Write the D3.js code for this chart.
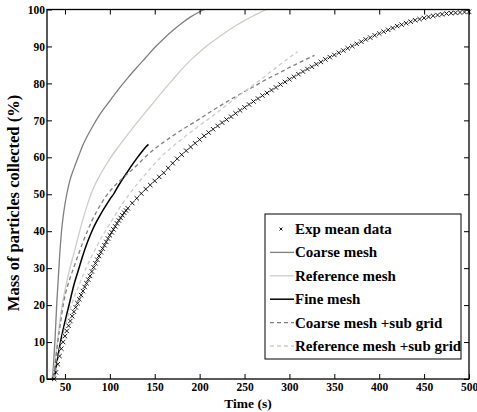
<!DOCTYPE html>
<html>
<head>
<meta charset="utf-8">
<script src="https://cdn.jsdelivr.net/npm/d3@7"></script>
<style>
  body { margin: 0; background: #fff; }
  text { font-family: "Liberation Serif", "Times New Roman", serif; font-weight: bold; }
</style>
</head>
<body>
<div id="myVis"></div>
<script>
var width = 477;
var height = 412;
var margin = {left: 47, top: 9.5, right: 8, bottom: 33};

// experimental mean data (s, %)
var expTime = [38, 40, 42, 44, 46, 48, 50, 52, 54, 56, 58, 60, 62, 64, 66, 68, 70, 72, 74, 76, 78, 80, 82, 84, 86, 88, 90,
  92, 94, 96, 98, 100, 102, 104, 106, 108, 110, 112, 114, 116, 118, 120,
  125, 130, 135, 140, 145, 150, 155, 160, 165, 170, 175, 180, 185, 190, 195, 200, 205, 210, 215, 220, 225, 230, 235,
  240, 245, 250, 255, 260, 265, 270, 275, 280, 285, 290, 295, 300, 305, 310, 315, 320, 325, 330, 335, 340, 345, 350,
  355, 360, 365, 370, 375, 380, 385, 390, 395, 400, 405, 410, 415, 420, 425, 430, 435, 440, 445, 450, 455, 460, 465,
  470, 475, 480, 485, 490, 495, 500];
var expMass = [0, 1.8, 4, 6.2, 8.2, 10, 11.6, 13, 14.4, 15.7, 17, 18.2, 19.4, 20.5, 21.6, 22.7, 23.8, 24.9, 25.9, 26.9, 27.9, 29.1, 30.2, 31.3, 32.3, 33.3, 34.3,
  35.3, 36.2, 37.1, 38, 38.9, 39.7, 40.5, 41.3, 42.1, 42.9, 43.6, 44.3, 45, 45.6, 46.2,
  47.6, 48.9, 50.2, 51.4, 52.5, 53.6, 54.7, 55.8, 57.1, 58.4, 59.6, 60.7, 61.8, 62.8, 63.8, 64.8, 65.8, 66.7, 67.6, 68.5, 69.4, 70.2, 71,
  71.9, 72.7, 73.5, 74.3, 75.1, 75.9, 76.7, 77.4, 78.2, 78.9, 79.7, 80.4, 81.1, 81.8, 82.5, 83.2, 83.9, 84.5, 85.2, 85.8, 86.5, 87.1, 87.7,
  88.3, 88.9, 89.5, 90.1, 90.7, 91.3, 91.9, 92.4, 93, 93.5, 94, 94.5, 95, 95.5, 95.9, 96.3, 96.7, 97.1, 97.4, 97.7, 98, 98.3, 98.5,
  98.7, 98.9, 99, 99.1, 99.2, 99.3, 99.4];

var coarseTime = [31, 35, 37, 38, 39, 40, 41, 42, 43, 44, 45, 46, 48, 50, 52, 55, 60, 65, 70, 80, 90, 100, 110, 120, 130, 140, 150, 160, 170, 180, 190, 200, 205];
var coarseMass = [0, 0, 3, 7, 11, 16, 21, 25, 29, 33, 36.5, 39.5, 44, 47.3, 50, 53.3, 57, 60.2, 63.3, 68, 72, 75.3, 78.5, 81.5, 84.3, 87, 89.7, 92.1, 94.3, 96.3, 98, 99.4, 100];

var refTime = [31, 36, 38, 40, 42, 44, 46, 48, 50, 55, 60, 65, 70, 75, 80, 90, 100, 110, 120, 130, 140, 150, 160, 170, 180, 190, 200, 210, 220, 230, 240, 250, 260, 270, 275];
var refMass = [0, 0, 3, 7, 11, 15, 18.5, 21.5, 24, 29.5, 34, 38.7, 43.2, 47.2, 50.7, 55.6, 59.6, 63, 66.2, 69.3, 72.3, 75.2, 78.2, 81, 83.8, 86.3, 88.5, 90.5, 92.3, 94, 95.6, 97, 98.3, 99.5, 100];

var fineTime = [31, 38, 40, 45, 50, 55, 60, 65, 70, 75, 80, 85, 90, 95, 100, 105, 110, 115, 120, 125, 130, 135, 140, 143];
var fineMass = [0, 0, 3, 10, 15.5, 20.5, 25.5, 29.5, 33.5, 37, 40, 42.5, 44.7, 46.7, 48.6, 50.4, 52.5, 54.4, 56.2, 58, 59.7, 61.3, 62.8, 63.5];

var coarseSubTime = [31, 36, 38, 40, 42, 45, 48, 51, 55, 60, 65, 70, 75, 80, 85, 90, 95, 100, 105, 110, 115, 120, 130, 140, 150, 160, 170, 180, 190,
  200, 210, 220, 230, 240, 250, 260, 270, 280, 290, 300, 310, 320, 328];
var coarseSubMass = [0, 0, 2, 6, 10, 15, 20, 23.5, 26.8, 30.3, 33.7, 37, 40, 42.8, 45.2, 47.3, 49.2, 50.8, 52.2, 53.4, 54.5, 55.6, 57.8, 60.2, 62.3, 64.1, 65.8, 67.4, 68.9,
  70.4, 72, 73.5, 75, 76.4, 77.8, 79.1, 80.5, 81.8, 83, 84.3, 85.5, 86.7, 87.6];

var refSubTime = [31, 38, 40, 45, 50, 55, 60, 65, 70, 75, 80, 85, 90, 95, 100, 105, 110, 115, 120, 130, 140, 150, 160, 170, 180, 190,
  200, 210, 220, 230, 240, 250, 260, 270, 280, 290, 300, 309];
var refSubMass = [0, 0, 2.5, 9, 14, 18.3, 22, 25, 28, 30.8, 33.3, 35.7, 38, 40, 42, 44, 46, 47.8, 49.5, 52.6, 55.5, 58.3, 60.8, 62.9, 64.9, 66.8,
  68.6, 70.4, 72.2, 74.1, 76, 77.8, 79.6, 81.4, 83.3, 85.2, 87, 88.6];

var xTicks = [50, 100, 150, 200, 250, 300, 350, 400, 450, 500];
var yTicks = [0, 10, 20, 30, 40, 50, 60, 70, 80, 90, 100];

var legendLabels = ["Exp mean data", "Coarse mesh", "Reference mesh", "Fine mesh", "Coarse mesh +sub grid", "Reference mesh +sub grid"];

var series = [
  {time: coarseTime, mass: coarseMass, color: "#7f7f7f", dash: null, w: 1.3},
  {time: refTime, mass: refMass, color: "#cfcdc8", dash: null, w: 1.3},
  {time: fineTime, mass: fineMass, color: "#000", dash: null, w: 1.5},
  {time: coarseSubTime, mass: coarseSubMass, color: "#7f7f7f", dash: "4,3", w: 1.3},
  {time: refSubTime, mass: refSubMass, color: "#cfcdc8", dash: "4,3", w: 1.3}
];

var svg = d3.select("#myVis")
  .append("svg")
  .attr("width", width)
  .attr("height", height)
  .style("background-color", "#fff");

var x = d3.scaleLinear().domain([30, 500]).range([margin.left, width - margin.right]);
var y = d3.scaleLinear().domain([0, 100]).range([height - margin.bottom, margin.top]);

var line = d3.line()
  .curve(d3.curveMonotoneX)
  .x(function(d) { return x(d[0]); })
  .y(function(d) { return y(d[1]); });

series.forEach(function(s) {
  svg.append("path")
    .datum(d3.zip(s.time, s.mass))
    .attr("d", line)
    .attr("fill", "none")
    .attr("stroke", s.color)
    .attr("stroke-width", s.w)
    .attr("stroke-dasharray", s.dash);
});

// exp data as small crosses
var expPts = d3.zip(expTime, expMass);
svg.append("g")
  .selectAll("path")
  .data(expPts)
  .join("path")
  .attr("d", "M-2.2,-2.2L2.2,2.2M-2.2,2.2L2.2,-2.2")
  .attr("transform", function(d) { return "translate(" + x(d[0]) + "," + y(d[1]) + ")"; })
  .attr("stroke", "#000")
  .attr("stroke-width", 0.9);

// axes, ticks inside
var axB = svg.append("g")
  .attr("transform", "translate(0," + (height - margin.bottom) + ")")
  .call(d3.axisBottom(x).tickValues(xTicks).tickSize(-5).tickPadding(4));
var axT = svg.append("g")
  .attr("transform", "translate(0," + margin.top + ")")
  .call(d3.axisTop(x).tickValues(xTicks).tickSize(-5).tickFormat(""));
var axL = svg.append("g")
  .attr("transform", "translate(" + margin.left + ",0)")
  .call(d3.axisLeft(y).tickValues(yTicks).tickSize(-5).tickPadding(2));
var axR = svg.append("g")
  .attr("transform", "translate(" + (width - margin.right) + ",0)")
  .call(d3.axisRight(y).tickValues(yTicks).tickSize(-5).tickFormat(""));

[axB, axT, axL, axR].forEach(function(a) {
  a.select(".domain").remove();
  a.selectAll(".tick line").attr("stroke", "#000").attr("stroke-width", 1);
  a.selectAll("text")
    .attr("fill", "#000")
    .style("font-size", "11.5px")
    .style("font-family", "'Liberation Serif', 'Times New Roman', serif")
    .style("font-weight", "bold");
});

svg.append("rect")
  .attr("x", x(30))
  .attr("y", y(100))
  .attr("width", x(500) - x(30))
  .attr("height", y(0) - y(100))
  .attr("fill", "none")
  .attr("stroke", "#000")
  .attr("stroke-width", 1.3);

// axis titles
svg.append("text")
  .attr("x", (x(30) + x(500)) / 2 - 10)
  .attr("y", 408)
  .attr("text-anchor", "middle")
  .style("font-size", "13.5px")
  .text("Time (s)");

svg.append("text")
  .attr("transform", "translate(19," + 203 + ") rotate(-90)")
  .attr("text-anchor", "middle")
  .style("font-size", "16.5px")
  .text("Mass of particles collected (%)");

// legend
var lg = svg.append("g");
lg.append("rect")
  .attr("x", 265)
  .attr("y", 214)
  .attr("width", 196)
  .attr("height", 145)
  .attr("fill", "#fff")
  .attr("stroke", "#000")
  .attr("stroke-width", 1);

var legendStyle = [null].concat(series);
legendLabels.forEach(function(label, i) {
  var ly = 229 + i * 23.4;
  if (i === 0) {
    lg.append("path")
      .attr("d", "M-1.5,-1.5L1.5,1.5M-1.5,1.5L1.5,-1.5")
      .attr("transform", "translate(281," + ly + ")")
      .attr("stroke", "#000")
      .attr("stroke-width", 0.9);
  } else {
    var s = legendStyle[i];
    lg.append("line")
      .attr("x1", 270).attr("x2", 294)
      .attr("y1", ly).attr("y2", ly)
      .attr("stroke", s.color)
      .attr("stroke-width", s.w)
      .attr("stroke-dasharray", s.dash);
  }
  lg.append("text")
    .attr("x", 295)
    .attr("y", ly + 5)
    .style("font-size", "15px")
    .text(label);
});
</script>
</body>
</html>
